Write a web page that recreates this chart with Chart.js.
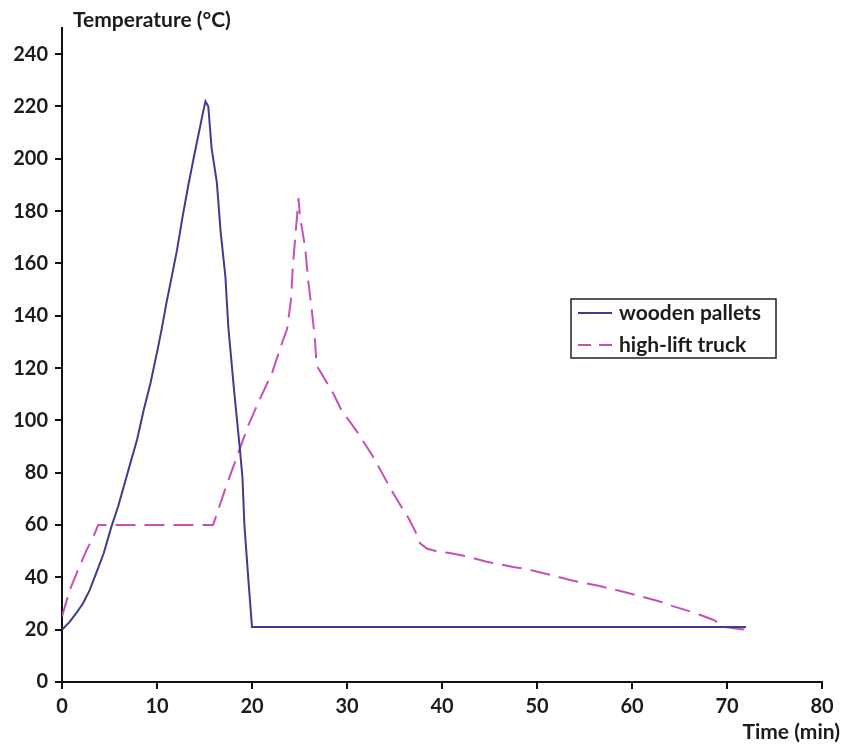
<!DOCTYPE html>
<html>
<head>
<meta charset="utf-8">
<script src="https://cdn.jsdelivr.net/npm/chart.js@4"></script>
<style>
  body { margin: 0; background: #fff; }
  canvas { display: block; }
</style>
</head>
<body>
<canvas id="myChart" width="844" height="744"></canvas>
<script>
// data
const palletsTime = [0, 0.8, 1.5, 2.2, 2.9, 3.6, 4.4, 5.2, 5.9, 6.6, 7.3, 7.9, 8.6, 9.3, 10, 10.5, 11, 11.5, 12.1, 12.7, 13.3, 13.9, 14.8, 15.1, 15.4, 15.75, 16.3, 16.7, 17.2, 17.5, 18.1, 18.7, 19.0, 19.2, 19.6, 20, 72];
const palletsTemp = [20, 23, 26.3, 30, 35, 41.6, 49.3, 59.4, 67, 76, 85, 92.6, 104, 114, 126, 135, 145, 154, 165, 178, 190, 201, 217, 222, 220, 204, 191, 172, 155, 136, 112, 90, 78, 60, 40, 21, 21];

const truckTime = [0, 0.8, 1.7, 2.6, 3.3, 3.8, 15.9, 17.3, 17.7, 19.6, 20.8, 22.1, 23.1, 23.7, 24.1, 24.3, 24.9, 25.05, 25.6, 25.9, 26.3, 26.6, 26.8, 27.7, 28.6, 29.4, 30.3, 31.0, 31.7, 32.6, 33.3, 34.2, 34.9, 35.8, 36.5, 37.2, 37.7, 38.4, 39.4, 40.8, 42.4, 44.7, 47.5, 49.1, 50.7, 53.7, 56.6, 59.6, 61, 63.1, 64.2, 66.1, 67.2, 68.6, 69.8, 71.5, 72];
const truckTemp = [25, 35, 43, 50.5, 55.5, 60, 60, 75, 79, 98, 108, 118, 129, 135, 146, 159, 185, 178, 166, 154, 142, 132, 121, 115.5, 110, 104, 99.5, 96, 92, 87, 82.5, 76.5, 72, 66.5, 62.5, 57.5, 53, 51, 50, 49.3, 48.2, 46, 44, 43, 41.6, 38.8, 36.7, 34, 32.7, 30.6, 29.1, 27, 25.6, 23.7, 21, 20.2, 20];

const seriesNames = ['wooden pallets', 'high-lift truck'];
const yTitle = 'Temperature (°C)';
const xTitle = 'Time (min)';

const blue = '#3d3d8e';
const pink = '#c850b4';
const textColor = '#1c1c1c';
const font = 'Lato';

function toPoints(xs, ys) {
    return xs.map((x, i) => ({ x: x, y: ys[i] }));
}

// titles and the boxed legend
const textPlugin = {
    id: 'textPlugin',
    afterDraw(chart) {
        const c = chart.ctx;
        c.save();
        c.fillStyle = textColor;
        c.font = 'bold 21px ' + font;
        c.textBaseline = 'alphabetic';
        c.textAlign = 'left';
        c.fillText(yTitle, 73, 27);
        c.textAlign = 'right';
        c.fillText(xTitle, 840, 739);

        // legend
        c.strokeStyle = '#222';
        c.lineWidth = 1.5;
        c.strokeRect(571, 299, 205, 59);
        const rows = [313, 345];
        chart.data.datasets.forEach((ds, i) => {
            c.beginPath();
            c.setLineDash(ds.borderDash ? [13, 8] : []);
            c.strokeStyle = ds.borderColor;
            c.lineWidth = 2;
            c.moveTo(578, rows[i]);
            c.lineTo(612, rows[i]);
            c.stroke();
            c.setLineDash([]);
            c.fillStyle = textColor;
            c.textAlign = 'left';
            c.textBaseline = 'middle';
            c.fillText(ds.label, 619, rows[i]);
        });
        c.restore();
    }
};

const ctx = document.getElementById('myChart').getContext('2d');

const chart = new Chart(ctx, {
    type: 'line',
    data: {
        datasets: [{
            label: seriesNames[0],
            data: toPoints(palletsTime, palletsTemp),
            borderColor: blue,
            borderWidth: 2,
            pointRadius: 0,
            tension: 0
        }, {
            label: seriesNames[1],
            data: toPoints(truckTime, truckTemp),
            borderColor: pink,
            borderWidth: 2,
            borderDash: [20, 9],
            pointRadius: 0,
            tension: 0
        }]
    },
    options: {
        responsive: false,
        animation: false,
        layout: { padding: { left: 0, top: 28, right: 22, bottom: 22 } },
        plugins: {
            legend: { display: false },
            tooltip: { enabled: false }
        },
        scales: {
            x: {
                type: 'linear',
                min: 0,
                max: 80,
                border: { color: '#111', width: 2 },
                grid: { drawOnChartArea: false, tickLength: 7, color: '#111', lineWidth: 2 },
                ticks: { stepSize: 10, color: textColor, font: { family: font, size: 20, weight: 'bold' }, padding: 6, maxRotation: 0 },
                afterFit(scale) { scale.height = 40; }
            },
            y: {
                min: 0,
                max: 250,
                border: { color: '#111', width: 2 },
                grid: { drawOnChartArea: false, tickLength: 7, color: '#111', lineWidth: 2 },
                ticks: { stepSize: 20, color: textColor, font: { family: font, size: 20, weight: 'bold' }, padding: 7 },
                afterBuildTicks(scale) {
                    scale.ticks = scale.ticks.filter(t => t.value % 20 === 0);
                },
                afterFit(scale) { scale.width = 62; }
            }
        }
    },
    plugins: [textPlugin]
});
</script>
</body>
</html>
